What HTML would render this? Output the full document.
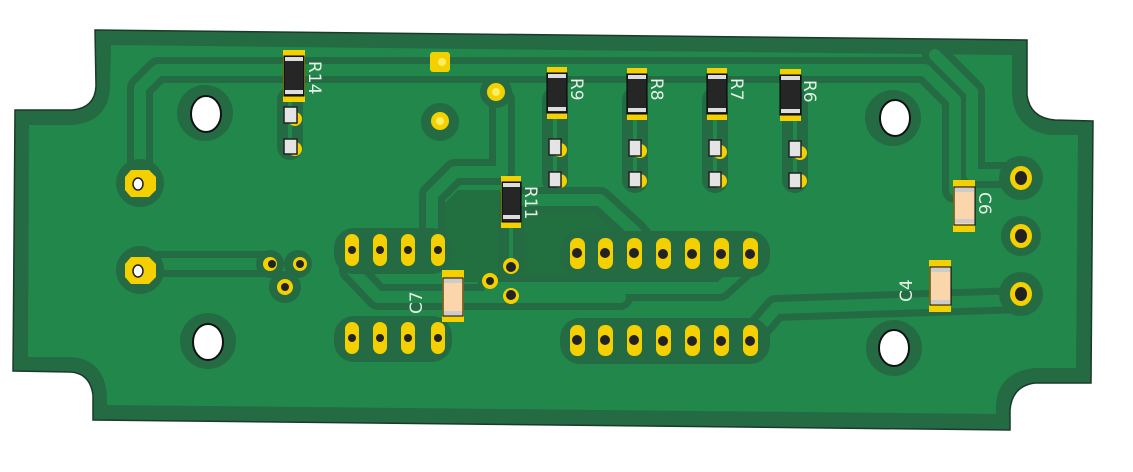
<!DOCTYPE html>
<html><head><meta charset="utf-8"><style>
html,body{margin:0;padding:0;background:#fff;}
svg{display:block;}
text{font-family:"DejaVu Sans","Liberation Sans",sans-serif;font-size:17px;fill:#e6efe6;}
</style></head><body>
<svg width="1133" height="472" viewBox="0 0 1133 472" xmlns="http://www.w3.org/2000/svg">
<path d="M95,30 L1027,40 L1027,95 Q1030,118 1055,120 L1093,121 L1091,383 L1035,383 Q1012,386 1010,410 L1010,430 L93,420 L93,395 Q90,373 70,372 L13,371 L15,110 L72,110 Q95,108 96,86 Z" fill="#246b43" stroke="#1a3a28" stroke-width="1.5"/>
<path d="M111,45 L1012,55 L1012,95 Q1015,130 1050,135 L1078,135 L1076,368 L1035,368 Q998,372 996,405 L996,414 L107,405 L107,395 Q104,360 72,357 L28,357 L29,125 L72,125 Q108,122 110,88 Z" fill="#21874a"/>
<path d="M443,205 L458,190 L500,190 L500,212 L602,212 L638,246 L662,246 L662,282 L443,282 Z" fill="#226f3f"/>
<g fill="none" stroke="#246b43" stroke-linejoin="round" stroke-linecap="round" stroke-width="26">
<polyline points="140,183 140,88 158,70 925,70 955,100 955,190"/>
<polyline points="935,55 972,92 972,175 1021,175"/>
<polyline points="140,270 150,264 270,264"/>
<polyline points="496,92 502,100 502,172 455,172 432,195 432,245"/>
<polyline points="511,200 511,266"/>
<polyline points="352,250 352,270 378,297 620,297"/>
<polyline points="490,288 720,288 740,270"/>
<polyline points="750,338 776,308 1021,300"/>
<polyline points="555,100 555,180"/><polyline points="635,100 635,180"/><polyline points="715,100 715,180"/><polyline points="795,100 795,180"/>
<polyline points="290,100 290,147"/>
<polyline points="520,200 600,200 635,232 650,250"/>
</g>
<g fill="none" stroke="#21874a" stroke-linejoin="round" stroke-linecap="round" stroke-width="12">
<polyline points="140,183 140,88 158,70 925,70 955,100 955,190"/>
<polyline points="935,55 972,92 972,175 1021,175"/>
<polyline points="140,270 150,264 270,264"/>
<polyline points="496,92 502,100 502,172 455,172 432,195 432,245"/>
<polyline points="352,250 352,270 378,297 620,297"/>
<polyline points="490,288 720,288 740,270"/>
<polyline points="750,338 776,308 1021,300"/>
<polyline points="520,200 600,200 635,232 650,250"/>
</g>
<g fill="none" stroke="#21874a" stroke-width="4">
<polyline points="511,200 511,266"/>
<polyline points="555,100 555,180"/><polyline points="635,100 635,180"/><polyline points="715,100 715,180"/><polyline points="795,100 795,180"/>
<polyline points="290,100 290,147"/>
</g>
<g fill="#246b43">
<circle cx="205" cy="113" r="28"/><circle cx="208" cy="341" r="28"/><circle cx="893" cy="118" r="28"/><circle cx="894" cy="348" r="28"/>
<circle cx="140" cy="183" r="24"/><circle cx="140" cy="270" r="24"/>
<circle cx="440" cy="122" r="19"/><circle cx="496" cy="92" r="16"/>
<circle cx="1021" cy="178" r="22"/><circle cx="1021" cy="236" r="20"/><circle cx="1021" cy="294" r="22"/>
<circle cx="285" cy="287" r="16"/><circle cx="270" cy="264" r="14"/><circle cx="298" cy="264" r="14"/>
<rect x="334" y="228" width="118" height="46" rx="20"/><rect x="334" y="316" width="118" height="46" rx="20"/>
<rect x="560" y="231" width="210" height="46" rx="20"/><rect x="560" y="318" width="210" height="46" rx="20"/>
</g>
<g fill="#fff" stroke="#111" stroke-width="2">
<ellipse cx="206" cy="114" rx="15" ry="18"/><ellipse cx="208" cy="342" rx="15" ry="18"/><ellipse cx="895" cy="118" rx="15" ry="18"/><ellipse cx="894" cy="348" rx="15" ry="18"/>
</g>
<g fill="#f5d000">
<polygon points="131,170 149,170 156,177 156,190 149,197 131,197 125,190 125,177"/>
<polygon points="131,257 149,257 156,264 156,277 149,284 131,284 125,277 125,264"/>
<rect x="430" y="52" width="20" height="20" rx="3"/>
<circle cx="496" cy="92" r="9"/><circle cx="440" cy="121" r="9"/>
<ellipse cx="1021" cy="178" rx="11" ry="12"/><ellipse cx="1021" cy="236" rx="11" ry="12"/><ellipse cx="1021" cy="294" rx="11" ry="12"/>
<circle cx="270" cy="264" r="7"/><circle cx="300" cy="264" r="7"/><circle cx="285" cy="287" r="8"/>
<circle cx="511" cy="266" r="8"/><circle cx="511" cy="296" r="8"/><circle cx="490" cy="281" r="8"/>
</g>
<g fill="#fff" stroke="#222" stroke-width="1.5">
<ellipse cx="138" cy="184" rx="5" ry="6"/><ellipse cx="138" cy="271" rx="5" ry="6"/>
</g>
<g fill="#222"><circle cx="442" cy="62" r="4" fill="#f8f060"/><circle cx="496" cy="92" r="4" fill="#f8f060"/><circle cx="440" cy="121" r="4" fill="#f8f060"/>
<ellipse cx="1021" cy="178" rx="6" ry="7"/><ellipse cx="1021" cy="236" rx="6" ry="7"/><ellipse cx="1021" cy="294" rx="6" ry="7"/>
<circle cx="272" cy="264" r="4"/><circle cx="300" cy="264" r="4"/><circle cx="285" cy="287" r="4"/>
<circle cx="511" cy="267" r="5"/><circle cx="511" cy="295" r="5"/><circle cx="490" cy="281" r="4"/>
</g>
<g fill="#f5d000">
<rect x="345" y="234" width="14" height="32" rx="7"/><rect x="373" y="234" width="14" height="32" rx="7"/><rect x="401" y="234" width="14" height="32" rx="7"/><rect x="431" y="234" width="14" height="32" rx="7"/>
<rect x="345" y="322" width="14" height="32" rx="7"/><rect x="373" y="322" width="14" height="32" rx="7"/><rect x="401" y="322" width="14" height="32" rx="7"/><rect x="431" y="322" width="14" height="32" rx="7"/>
<rect x="570" y="238" width="15" height="31" rx="7"/><rect x="598" y="238" width="15" height="31" rx="7"/><rect x="627" y="238" width="15" height="31" rx="7"/><rect x="656" y="238" width="15" height="31" rx="7"/><rect x="685" y="238" width="15" height="31" rx="7"/><rect x="714" y="238" width="15" height="31" rx="7"/><rect x="743" y="238" width="15" height="31" rx="7"/>
<rect x="570" y="325" width="15" height="31" rx="7"/><rect x="598" y="325" width="15" height="31" rx="7"/><rect x="627" y="325" width="15" height="31" rx="7"/><rect x="656" y="325" width="15" height="31" rx="7"/><rect x="685" y="325" width="15" height="31" rx="7"/><rect x="714" y="325" width="15" height="31" rx="7"/><rect x="743" y="325" width="15" height="31" rx="7"/>
</g>
<g fill="#222">
<circle cx="352" cy="250" r="4"/><circle cx="380" cy="250" r="4"/><circle cx="408" cy="250" r="4"/><circle cx="438" cy="250" r="4"/>
<circle cx="352" cy="338" r="4"/><circle cx="380" cy="338" r="4"/><circle cx="408" cy="338" r="4"/><circle cx="438" cy="338" r="4"/>
<circle cx="577" cy="253" r="5"/><circle cx="605" cy="253" r="5"/><circle cx="634" cy="253" r="5"/><circle cx="663" cy="254" r="5"/><circle cx="692" cy="254" r="5"/><circle cx="721" cy="254" r="5"/><circle cx="750" cy="254" r="5"/>
<circle cx="577" cy="340" r="5"/><circle cx="605" cy="340" r="5"/><circle cx="634" cy="340" r="5"/><circle cx="663" cy="341" r="5"/><circle cx="692" cy="341" r="5"/><circle cx="721" cy="341" r="5"/><circle cx="750" cy="341" r="5"/>
</g>
<g fill="#f5d000">
<circle cx="295" cy="119" r="7"/><circle cx="295" cy="149" r="7"/>
<circle cx="560" cy="150" r="7"/><circle cx="560" cy="181" r="7"/><circle cx="640" cy="151" r="7"/><circle cx="640" cy="181" r="7"/>
<circle cx="720" cy="152" r="7"/><circle cx="720" cy="181" r="7"/><circle cx="800" cy="153" r="7"/><circle cx="800" cy="181" r="7"/>
</g>
<g fill="#e4e4e4" stroke="#222" stroke-width="1.5">
<rect x="284" y="107" width="13" height="16"/><rect x="284" y="139" width="13" height="15"/>
<rect x="549" y="139" width="12" height="16"/><rect x="549" y="172" width="12" height="15"/>
<rect x="629" y="140" width="12" height="16"/><rect x="629" y="172" width="12" height="15"/>
<rect x="709" y="140" width="12" height="16"/><rect x="709" y="172" width="12" height="15"/>
<rect x="789" y="141" width="12" height="16"/><rect x="789" y="173" width="12" height="15"/>
</g>
<g>
<rect x="283" y="50" width="22" height="52" fill="#f5d000"/><rect x="284" y="56" width="20" height="40" fill="#262626" stroke="#000"/><rect x="285" y="57" width="18" height="4" fill="#ddd"/><rect x="285" y="90" width="18" height="4" fill="#ddd"/>
<rect x="547" y="67" width="20" height="52" fill="#f5d000"/><rect x="547" y="73" width="20" height="40" fill="#262626" stroke="#000"/><rect x="548" y="74" width="18" height="4" fill="#ddd"/><rect x="548" y="107" width="18" height="4" fill="#ddd"/>
<rect x="627" y="68" width="20" height="52" fill="#f5d000"/><rect x="627" y="74" width="20" height="40" fill="#262626" stroke="#000"/><rect x="628" y="75" width="18" height="4" fill="#ddd"/><rect x="628" y="108" width="18" height="4" fill="#ddd"/>
<rect x="707" y="68" width="20" height="52" fill="#f5d000"/><rect x="707" y="74" width="20" height="40" fill="#262626" stroke="#000"/><rect x="708" y="75" width="18" height="4" fill="#ddd"/><rect x="708" y="108" width="18" height="4" fill="#ddd"/>
<rect x="780" y="69" width="21" height="52" fill="#f5d000"/><rect x="780" y="75" width="21" height="40" fill="#262626" stroke="#000"/><rect x="781" y="76" width="19" height="4" fill="#ddd"/><rect x="781" y="109" width="19" height="4" fill="#ddd"/>
<rect x="501" y="176" width="20" height="52" fill="#f5d000"/><rect x="502" y="182" width="19" height="40" fill="#262626" stroke="#000"/><rect x="503" y="183" width="17" height="4" fill="#ddd"/><rect x="503" y="215" width="17" height="4" fill="#ddd"/>
</g>
<g>
<rect x="442" y="270" width="22" height="52" fill="#f5d000"/><rect x="443" y="278" width="20" height="38" fill="#fbd6aa" stroke="#000"/><rect x="444" y="279" width="18" height="4" fill="#ccc"/><rect x="444" y="311" width="18" height="4" fill="#ccc"/>
<rect x="953" y="180" width="22" height="52" fill="#f5d000"/><rect x="954" y="187" width="21" height="38" fill="#fbd6aa" stroke="#000"/><rect x="955" y="188" width="19" height="4" fill="#ccc"/><rect x="955" y="219" width="19" height="4" fill="#ccc"/>
<rect x="929" y="260" width="22" height="52" fill="#f5d000"/><rect x="930" y="267" width="21" height="38" fill="#fbd6aa" stroke="#000"/><rect x="931" y="268" width="19" height="4" fill="#ccc"/><rect x="931" y="300" width="19" height="4" fill="#ccc"/>
</g>
<text transform="translate(309,61) rotate(90)">R14</text>
<text transform="translate(571,78) rotate(90)">R9</text>
<text transform="translate(651,78) rotate(90)">R8</text>
<text transform="translate(731,78) rotate(90)">R7</text>
<text transform="translate(804,80) rotate(90)">R6</text>
<text transform="translate(525,186) rotate(90)">R11</text>
<text transform="translate(979,192) rotate(90)">C6</text>
<text transform="translate(422,314) rotate(-90)">C7</text>
<text transform="translate(912,302) rotate(-90)">C4</text>
</svg>
</body></html>
